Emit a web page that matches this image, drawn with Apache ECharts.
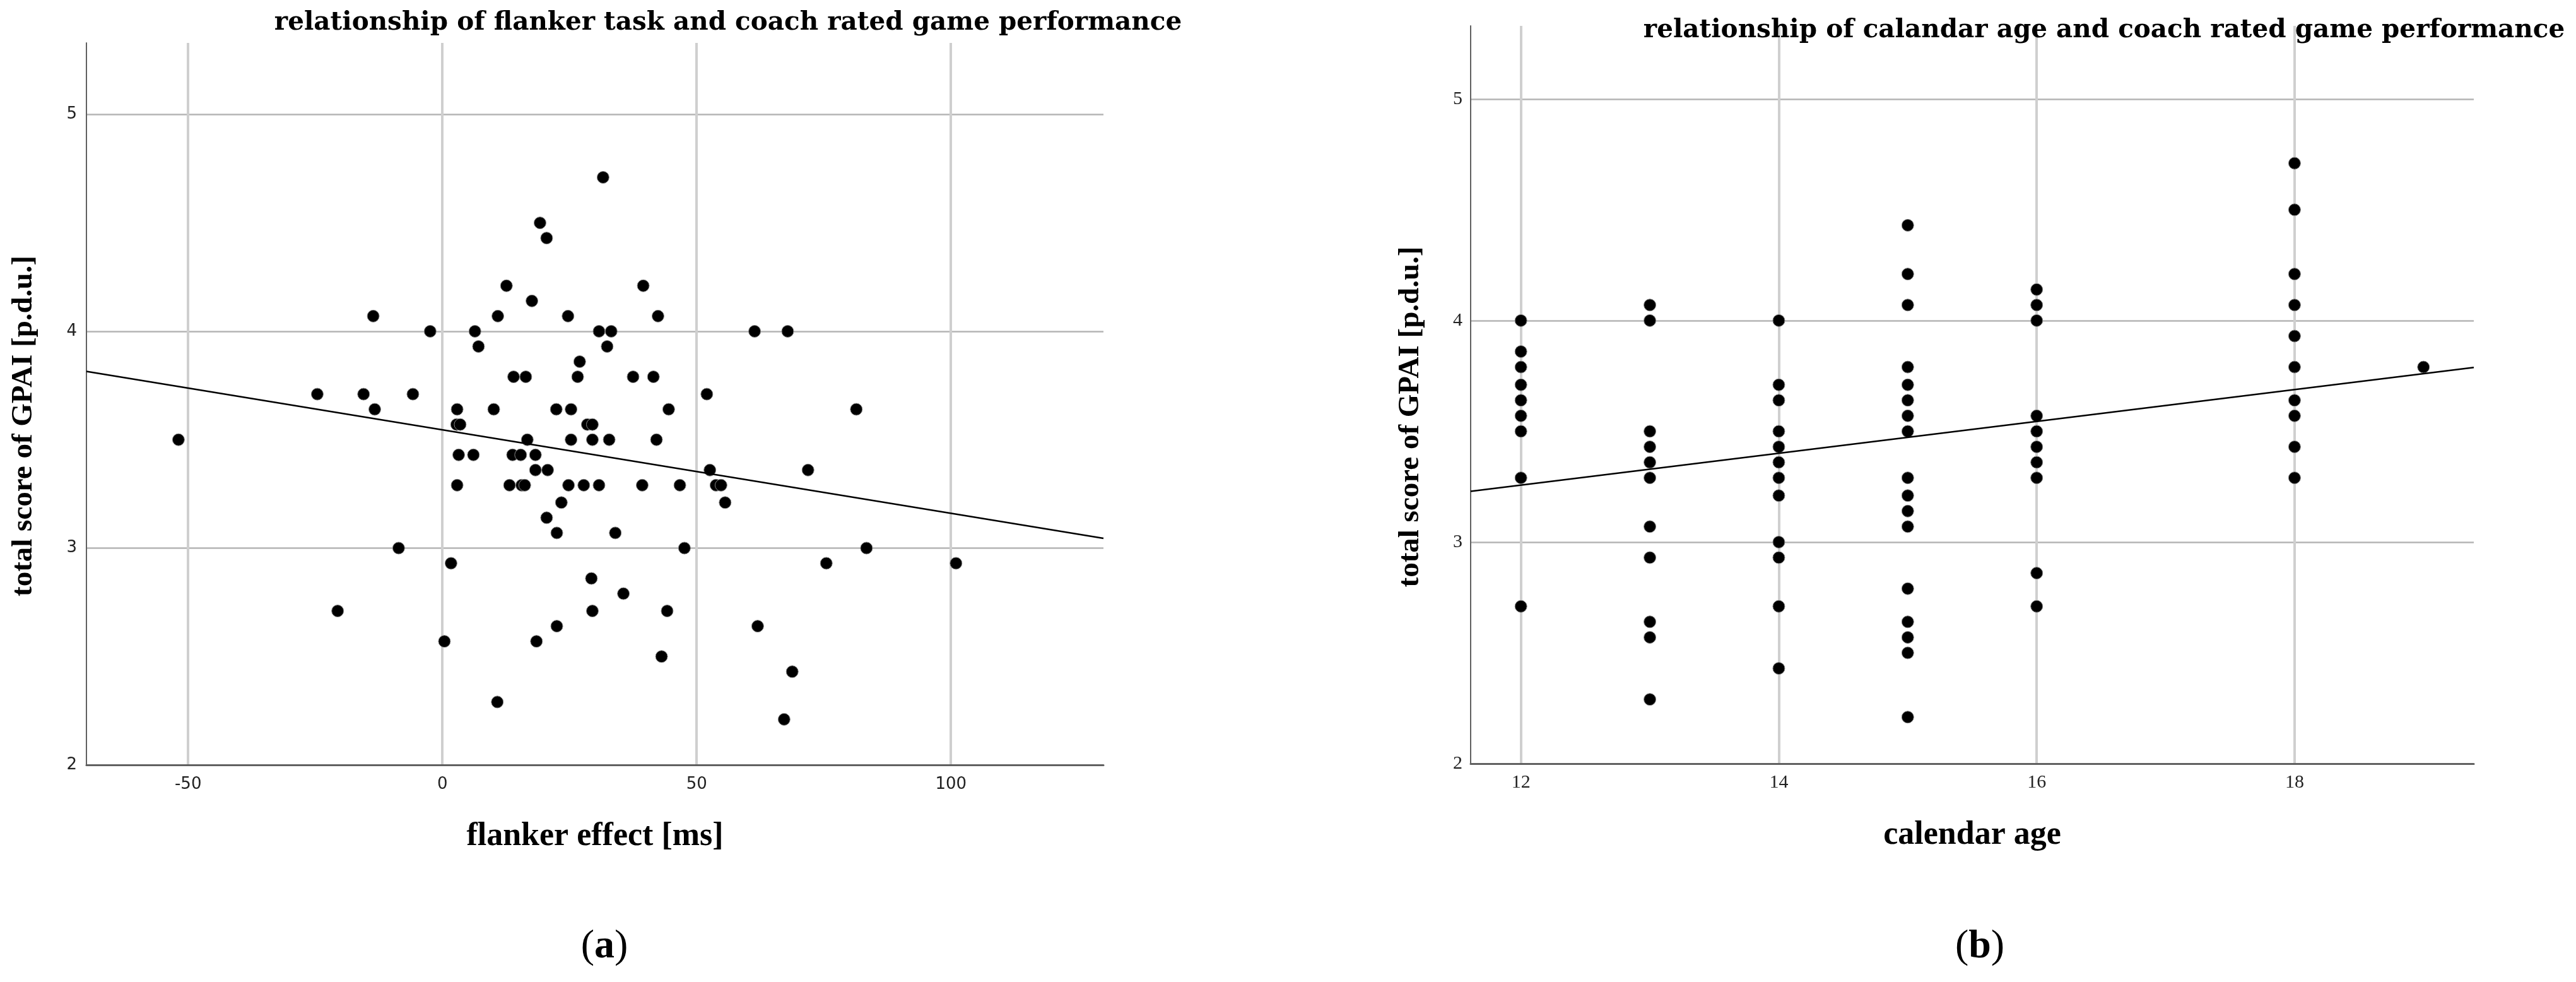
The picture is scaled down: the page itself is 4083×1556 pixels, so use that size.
<!DOCTYPE html>
<html><head><meta charset="utf-8">
<script src="https://cdn.jsdelivr.net/npm/echarts@6/dist/echarts.min.js"></script>
<style>html,body{margin:0;padding:0;background:#fff}#c{width:4083px;height:1556px}</style>
</head><body><div id="c"></div>
<script>
// ---- chart (a): flanker effect vs GPAI ----
const flankerEffect = [
  19.2, 20.5, 12.6, 17.6, -13.6, 10.9, 24.7, -2.4, 6.4, 7.1,
  27.0, 14.0, 16.4, 26.6, -24.6, -15.5, -5.8, -13.3, 2.9, 10.1,
  22.4, 25.3, 2.8, 3.5, 28.5, 29.5, -51.9, 16.7, 25.3, 29.5,
  3.2, 6.1, 13.8, 15.4, 18.3, 18.3, 20.7, 2.9, 13.2, 15.6,
  16.2, 24.8, 27.8, 23.4, 20.5, 22.5, -8.6, 1.7, 29.3, -20.6,
  29.5, 22.5, 0.4, 18.5, 10.8, 31.6, 39.5, 42.4, 30.8, 33.2,
  61.4, 67.9, 32.4, 37.5, 41.5, 52.0, 44.5, 81.4, 32.8, 42.1,
  52.6, 71.9, 30.8, 39.3, 46.7, 53.8, 54.8, 55.6, 34.0, 47.6,
  83.4, 75.5, 101.0, 35.6, 44.2, 62.0, 43.1, 68.8, 67.2
];
const gpaiFlanker = [
  4.50, 4.43, 4.21, 4.14, 4.07, 4.07, 4.07, 4.00, 4.00, 3.93,
  3.86, 3.79, 3.79, 3.79, 3.71, 3.71, 3.71, 3.64, 3.64, 3.64,
  3.64, 3.64, 3.57, 3.57, 3.57, 3.57, 3.50, 3.50, 3.50, 3.50,
  3.43, 3.43, 3.43, 3.43, 3.43, 3.36, 3.36, 3.29, 3.29, 3.29,
  3.29, 3.29, 3.29, 3.21, 3.14, 3.07, 3.00, 2.93, 2.86, 2.71,
  2.71, 2.64, 2.57, 2.57, 2.29, 4.71, 4.21, 4.07, 4.00, 4.00,
  4.00, 4.00, 3.93, 3.79, 3.79, 3.71, 3.64, 3.64, 3.50, 3.50,
  3.36, 3.36, 3.29, 3.29, 3.29, 3.29, 3.29, 3.21, 3.07, 3.00,
  3.00, 2.93, 2.93, 2.79, 2.71, 2.64, 2.50, 2.43, 2.21
];
const fitFlankerX = [-70, 130];
const fitFlankerY = [3.815, 3.045];
const flankerTicks = [-50, 0, 50, 100];

// ---- chart (b): calendar age vs GPAI ----
const calendarAge = [
  12,12,12,12,12,12,12,12,12,
  13,13,13,13,13,13,13,13,13,13,13,
  14,14,14,14,14,14,14,14,14,14,14,14,
  15,15,15,15,15,15,15,15,15,15,15,15,15,15,15,15,15,
  16,16,16,16,16,16,16,16,16,16,
  18,18,18,18,18,18,18,18,18,18,
  19
];
const gpaiAge = [
  4.00, 3.86, 3.79, 3.71, 3.64, 3.57, 3.50, 3.29, 2.71,
  4.07, 4.00, 3.50, 3.43, 3.36, 3.29, 3.07, 2.93, 2.64, 2.57, 2.29,
  4.00, 3.71, 3.64, 3.50, 3.43, 3.36, 3.29, 3.21, 3.00, 2.93, 2.71, 2.43,
  4.43, 4.21, 4.07, 3.79, 3.71, 3.64, 3.57, 3.50, 3.29, 3.21, 3.14, 3.07, 2.79, 2.64, 2.57, 2.50, 2.21,
  4.14, 4.07, 4.00, 3.57, 3.50, 3.43, 3.36, 3.29, 2.86, 2.71,
  4.71, 4.50, 4.21, 4.07, 3.93, 3.79, 3.64, 3.57, 3.43, 3.29,
  3.79
];
const fitAgeX = [11.61, 19.39];
const fitAgeY = [3.229, 3.788];
const ageTicks = [12, 14, 16, 18];
const gpaiTicks = [2, 3, 4, 5];

const titles = [
  'relationship of flanker task and coach rated game performance',
  'relationship of calandar age and coach rated game performance'
];
const xNames = ['flanker effect [ms]', 'calendar age'];
const yName = 'total score of GPAI [p.d.u.]';

const zip = (xs, ys) => xs.map((x, i) => [x, ys[i]]);

const serif = 'Liberation Serif, Times New Roman, serif';
const wideSerif = 'DejaVu Serif, serif';

function xAxisCfg(idx, min, max, ticks, labelFont, labelSize, margin, gap) {
  return {
    type: 'value', gridIndex: idx, min: min, max: max,
    name: xNames[idx], nameLocation: 'middle', nameGap: gap,
    nameTextStyle: {fontFamily: serif, fontWeight: 'bold', fontSize: 52, color: '#000'},
    axisLine: {show: true, onZero: false, lineStyle: {color: '#606060', width: 3}},
    axisTick: {show: false, customValues: ticks},
    axisLabel: {customValues: ticks, fontFamily: labelFont, fontSize: labelSize, color: '#222', margin: margin},
    splitLine: {show: true, lineStyle: {color: '#cfcfcf', width: 4}}
  };
}
function yAxisCfg(idx, labelFont, labelSize, margin, gap) {
  return {
    type: 'value', gridIndex: idx, min: 2, max: 5.33,
    name: yName, nameLocation: 'middle', nameGap: gap,
    nameTextStyle: {fontFamily: serif, fontWeight: 'bold', fontSize: 47, color: '#000', padding: [0, 70, 0, 0]},
    axisLine: {show: true, onZero: false, lineStyle: {color: '#606060', width: 2}},
    axisTick: {show: false, customValues: gpaiTicks},
    axisLabel: {customValues: gpaiTicks, fontFamily: labelFont, fontSize: labelSize, color: '#222', margin: margin},
    splitLine: {show: true, lineStyle: {color: '#b4b4b4', width: 2.5}}
  };
}

const chart = echarts.init(document.getElementById('c'), null, {renderer: 'canvas'});
chart.setOption({
  animation: false,
  backgroundColor: '#fff',
  title: [
    {text: titles[0], left: 1154, top: 16, textAlign: 'center', padding: 0,
     textStyle: {fontFamily: wideSerif, fontWeight: 'bold', fontSize: 40.5, color: '#000'}},
    {text: titles[1], left: 3335, top: 28, textAlign: 'center', padding: 0,
     textStyle: {fontFamily: wideSerif, fontWeight: 'bold', fontSize: 40.5, color: '#000'}},
    {text: '({b|a})', left: 958, top: 1468, textAlign: 'center', padding: 0,
     textStyle: {fontFamily: serif, fontWeight: 'normal', fontSize: 64, color: '#000',
       rich: {b: {fontFamily: serif, fontWeight: 'bold', fontSize: 64, color: '#000'}}}},
    {text: '({b|b})', left: 3138, top: 1468, textAlign: 'center', padding: 0,
     textStyle: {fontFamily: serif, fontWeight: 'normal', fontSize: 64, color: '#000',
       rich: {b: {fontFamily: serif, fontWeight: 'bold', fontSize: 64, color: '#000'}}}}
  ],
  grid: [
    {left: 137, top: 68, width: 1612, height: 1144, containLabel: false},
    {left: 2331, top: 41, width: 1590, height: 1169, containLabel: false}
  ],
  xAxis: [
    xAxisCfg(0, -70, 130, flankerTicks, 'DejaVu Sans, sans-serif', 26, 18, 88),
    xAxisCfg(1, 11.61, 19.39, ageTicks, serif, 30, 15, 88)
  ],
  yAxis: [
    yAxisCfg(0, 'DejaVu Sans, sans-serif', 26, 15, 76),
    yAxisCfg(1, serif, 30, 13, 72)
  ],
  series: [
    {type: 'scatter', xAxisIndex: 0, yAxisIndex: 0, data: zip(flankerEffect, gpaiFlanker),
     symbolSize: 19, itemStyle: {color: '#000', opacity: 1, borderColor: '#888', borderWidth: 1}, z: 3},
    {type: 'line', xAxisIndex: 0, yAxisIndex: 0, data: zip(fitFlankerX, fitFlankerY),
     showSymbol: false, symbol: 'none', lineStyle: {color: '#000', width: 2.5}, z: 4, silent: true},
    {type: 'scatter', xAxisIndex: 1, yAxisIndex: 1, data: zip(calendarAge, gpaiAge),
     symbolSize: 19, itemStyle: {color: '#000', opacity: 1, borderColor: '#888', borderWidth: 1}, z: 3},
    {type: 'line', xAxisIndex: 1, yAxisIndex: 1, data: zip(fitAgeX, fitAgeY),
     showSymbol: false, symbol: 'none', lineStyle: {color: '#000', width: 2.5}, z: 4, silent: true}
  ]
});
</script>
</body></html>
